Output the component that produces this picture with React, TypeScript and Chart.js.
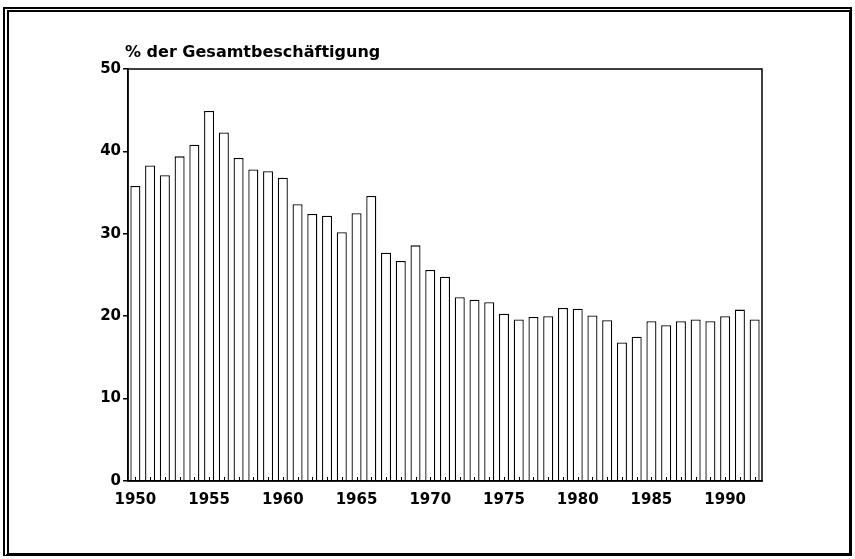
import React, { useEffect, useRef } from "react";
import { Chart, registerables } from "chart.js";

Chart.register(...registerables);

const years: number[] = [
  1950, 1951, 1952, 1953, 1954, 1955, 1956, 1957, 1958, 1959,
  1960, 1961, 1962, 1963, 1964, 1965, 1966, 1967, 1968, 1969,
  1970, 1971, 1972, 1973, 1974, 1975, 1976, 1977, 1978, 1979,
  1980, 1981, 1982, 1983, 1984, 1985, 1986, 1987, 1988, 1989,
  1990, 1991, 1992,
];

const shares: number[] = [
  35.8, 38.3, 37.1, 39.4, 40.8, 44.9, 42.3, 39.2, 37.8, 37.6,
  36.8, 33.6, 32.4, 32.2, 30.2, 32.5, 34.6, 27.7, 26.7, 28.6,
  25.6, 24.8, 22.3, 22.0, 21.7, 20.3, 19.6, 19.9, 20.0, 21.0,
  20.9, 20.1, 19.5, 16.8, 17.5, 19.4, 18.9, 19.4, 19.6, 19.4,
  20.0, 20.8, 19.6,
];

const yTicks: number[] = [0, 10, 20, 30, 40, 50];
const titleText = "% der Gesamtbeschäftigung";

const FONT = "'DejaVu Sans', 'Liberation Sans', Arial, sans-serif";

const framePlugin = {
  id: "frameAndTitle",
  afterDatasetsDraw(chart: any) {
    const { ctx, chartArea, scales } = chart;
    ctx.save();
    ctx.strokeStyle = "#000";
    ctx.lineWidth = 1;
    const xs = scales.x;
    for (let i = 0; i < years.length; i++) {
      const px = Math.round(xs.getPixelForValue(i)) + 0.5;
      ctx.beginPath();
      ctx.moveTo(px, chartArea.bottom);
      ctx.lineTo(px, chartArea.bottom - 4);
      ctx.stroke();
    }
    ctx.lineWidth = 1.5;
    ctx.strokeRect(chartArea.left, chartArea.top, chartArea.right - chartArea.left, chartArea.bottom - chartArea.top);
    ctx.fillStyle = "#000";
    ctx.font = `bold 16px ${FONT}`;
    ctx.textAlign = "left";
    ctx.textBaseline = "alphabetic";
    ctx.fillText(titleText, chartArea.left - 3, chartArea.top - 12);
    ctx.restore();
  },
};

export default function App() {
  const canvasRef = useRef<HTMLCanvasElement | null>(null);

  useEffect(() => {
    if (!canvasRef.current) return;
    const chart = new Chart(canvasRef.current, {
      type: "bar",
      data: {
        labels: years.map(String),
        datasets: [
          {
            data: shares,
            backgroundColor: "#fff",
            borderColor: "#000",
            borderWidth: 1.3,
            barPercentage: 0.68,
            categoryPercentage: 1,
          },
        ],
      },
      options: {
        animation: false,
        responsive: false,
        maintainAspectRatio: false,
        layout: { padding: { left: 88, right: 93, top: 69, bottom: 48 } },
        plugins: {
          legend: { display: false },
          title: { display: false },
          tooltip: { enabled: false },
        },
        scales: {
          x: {
            grid: { display: false, drawTicks: false },
            border: { display: true, color: "#000", width: 1.5 },
            ticks: {
              autoSkip: false,
              maxRotation: 0,
              minRotation: 0,
              color: "#000",
              padding: 10,
              font: { family: FONT, size: 15, weight: "bold" },
              callback: (_v: any, i: number) => (years[i] % 5 === 0 ? String(years[i]) : ""),
            },
            afterFit: (s: any) => {
              s.height = 30;
            },
          },
          y: {
            min: 0,
            max: 50,
            afterBuildTicks: (s: any) => {
              s.ticks = yTicks.map((v) => ({ value: v }));
            },
            grid: { drawOnChartArea: false, drawTicks: true, tickLength: 5, color: "#000", lineWidth: 1.5 },
            border: { display: true, color: "#000", width: 1.5 },
            ticks: {
              color: "#000",
              padding: 2,
              font: { family: FONT, size: 15, weight: "bold" },
            },
            afterFit: (s: any) => {
              s.width = 40;
            },
          },
        },
      },
      plugins: [framePlugin],
    });
    return () => chart.destroy();
  }, []);

  return (
    <div style={{ position: "fixed", left: 0, top: 0, width: 855, height: 559, background: "#fff" }}>
      <canvas ref={canvasRef} width={855} height={559} style={{ position: "absolute", left: 0, top: 0 }} />
      <div
        style={{
          position: "absolute",
          left: 3,
          top: 7,
          width: 840,
          height: 541,
          borderLeft: "6px double #000",
          borderTop: "5px double #000",
          borderRight: "3px solid #000",
          borderBottom: "3px solid #000",
          pointerEvents: "none",
        }}
      />
    </div>
  );
}
